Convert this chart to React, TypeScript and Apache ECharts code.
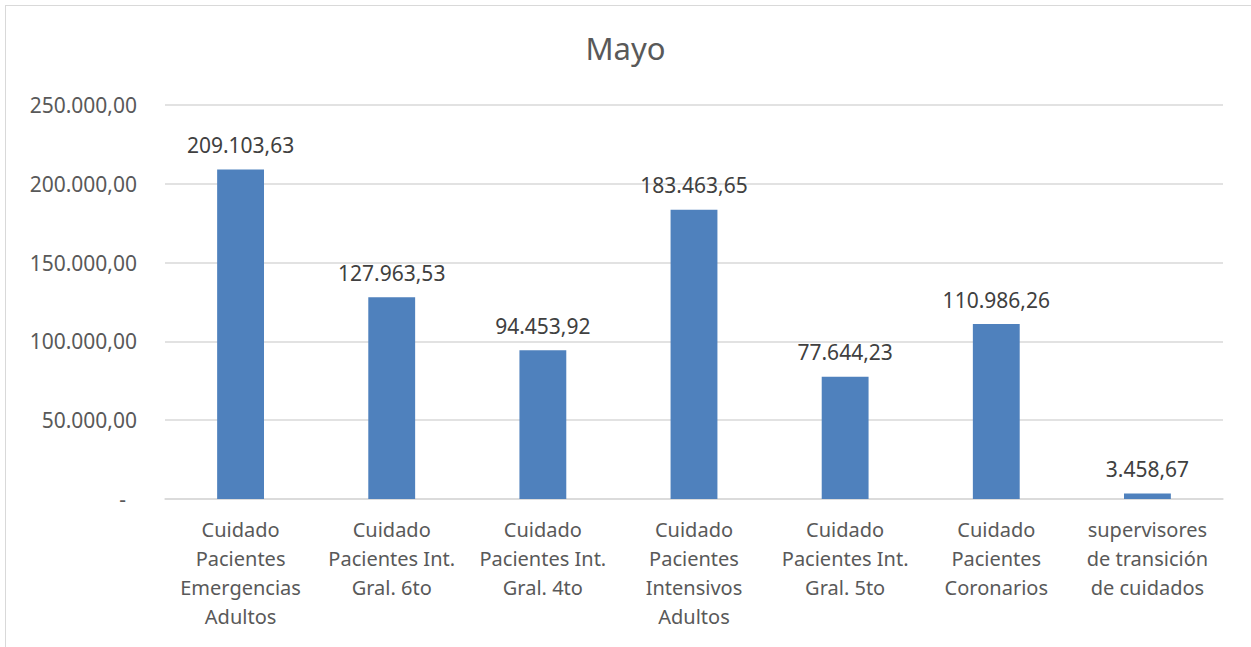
import React, { useEffect, useRef } from "react";
import * as echarts from "echarts";

const titleText = "Mayo";
const categories = [
  "Cuidado\nPacientes\nEmergencias\nAdultos",
  "Cuidado\nPacientes Int.\nGral. 6to",
  "Cuidado\nPacientes Int.\nGral. 4to",
  "Cuidado\nPacientes\nIntensivos\nAdultos",
  "Cuidado\nPacientes Int.\nGral. 5to",
  "Cuidado\nPacientes\nCoronarios",
  "supervisores\nde transición\nde cuidados",
];
const values = [209103.63, 127963.53, 94453.92, 183463.65, 77644.23, 110986.26, 3458.67];
const yMin = 0;
const yMax = 250000;
const yInterval = 50000;

function fmt(v: number): string {
  const fixed = v.toFixed(2);
  const [intPart, dec] = fixed.split(".");
  const withDots = intPart.replace(/\B(?=(\d{3})+(?!\d))/g, ".");
  return withDots + "," + dec;
}

const FONT = "'Noto Sans', sans-serif";

export default function App() {
  const ref = useRef<HTMLDivElement>(null);
  useEffect(() => {
    if (!ref.current) return;
    const chart = echarts.init(ref.current, undefined, { renderer: "svg" });
    chart.setOption({
      animation: false,
      backgroundColor: "transparent",
      title: {
        text: titleText,
        left: "center",
        top: 27,
        textStyle: { fontFamily: FONT, fontSize: 31, fontWeight: "normal", color: "#595959" },
      },
      grid: { left: 165, right: 28, top: 105, bottom: 148, containLabel: false },
      xAxis: {
        type: "category",
        data: categories,
        axisLine: { lineStyle: { color: "#d9d9d9", width: 1.5 } },
        axisTick: { show: false },
        axisLabel: {
          interval: 0,
          margin: 16,
          fontFamily: FONT,
          fontSize: 20,
          lineHeight: 29,
          color: "#595959",
        },
      },
      yAxis: {
        type: "value",
        min: yMin,
        max: yMax,
        interval: yInterval,
        axisLine: { show: false },
        axisTick: { show: false },
        splitLine: { lineStyle: { color: "#d9d9d9", width: 1.5 } },
        axisLabel: {
          margin: 28,
          fontFamily: FONT,
          fontSize: 21,
          color: "#595959",
          formatter: (v: number) => (v === 0 ? "{d|-}" : fmt(v)),
          rich: { d: { fontFamily: FONT, fontSize: 21, color: "#595959", padding: [0, 11, 0, 0] } },
        },
      },
      series: [
        {
          type: "bar",
          data: values,
          barWidth: "31%",
          itemStyle: { color: "#4f81bd" },
          label: {
            show: true,
            position: "top",
            distance: 14,
            fontFamily: FONT,
            fontSize: 21,
            color: "#404040",
            formatter: (p: any) => fmt(p.value),
          },
        },
      ],
    });
    return () => chart.dispose();
  }, []);
  return (
    <div style={{ position: "fixed", left: 0, top: 0, width: 1251, height: 647, background: "#fff", overflow: "hidden" }}>
      <div
        style={{
          position: "absolute",
          left: 5,
          top: 5,
          width: 1300,
          height: 700,
          border: "1.5px solid #d9d9d9",
          boxSizing: "border-box",
        }}
      />
      <div ref={ref} style={{ position: "absolute", left: 0, top: 0, width: 1251, height: 647 }} />
    </div>
  );
}
